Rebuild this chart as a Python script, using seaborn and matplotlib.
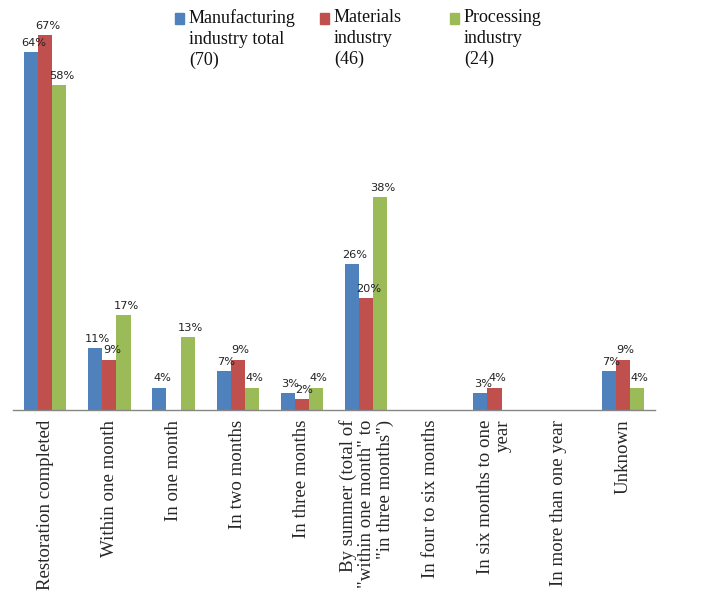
import numpy as np
import pandas as pd
import matplotlib
matplotlib.use("Agg")
import matplotlib.pyplot as plt
from matplotlib.patches import Rectangle
import seaborn as sns

categories = [
    "Restoration completed",
    "Within one month",
    "In one month",
    "In two months",
    "In three months",
    "By summer (total of\n\"within one month\" to\n\"in three months\")",
    "In four to six months",
    "In six months to one\nyear",
    "In more than one year",
    "Unknown",
]
series_names = [
    "Manufacturing\nindustry total\n(70)",
    "Materials\nindustry\n(46)",
    "Processing\nindustry\n(24)",
]
manufacturing_total = [64, 11, 4, 7, 3, 26, 0, 3, 0, 7]
materials = [67, 9, 0, 9, 2, 20, 0, 4, 0, 9]
processing = [58, 17, 13, 4, 4, 38, 0, 0, 0, 4]
colors = ["#4F81BD", "#C0504D", "#9BBB59"]

rows = []
for name, vals in zip(series_names, [manufacturing_total, materials, processing]):
    for cat, v in zip(categories, vals):
        rows.append({"category": cat, "series": name, "value": v})
df = pd.DataFrame(rows)

sns.set_style("white")
plt.rcParams["font.family"] = ["DejaVu Sans"]

fig = plt.figure(figsize=(7.28, 5.92), dpi=100)
ax = fig.add_axes([0.0179, 0.3074, 0.8818, 0.662])

sns.barplot(data=df, x="category", y="value", hue="series", order=categories,
            hue_order=series_names, palette=colors, width=0.66, gap=0,
            saturation=1, legend=False, ax=ax, linewidth=0)

ax.set_ylim(0, 70)
ax.set_xlim(-0.5, len(categories) - 0.5)

# value labels above each non-zero bar
for container in ax.containers:
    for bar in container:
        h = bar.get_height()
        if h > 0:
            ax.annotate(f"{h:.0f}%", (bar.get_x() + bar.get_width() / 2 + 0.04, h),
                        xytext=(0, 3), textcoords="offset points",
                        ha="center", va="bottom", fontsize=8.2, color="#222222")

# category axis: ticks between categories, labels at the centres
ax.set_xticks(np.arange(-0.5, len(categories), 1))
ax.set_xticklabels([])
ax.set_xticks(np.arange(len(categories)), minor=True)
ax.set_xticklabels(categories, minor=True, rotation=90, ha="center", va="top",
                   multialignment="right", fontsize=13.6, family="Liberation Serif",
                   linespacing=1.1)
ax.tick_params(axis="x", which="major", length=5, width=1, color="#868686", direction="out")
ax.tick_params(axis="x", which="minor", length=0, pad=7)
ax.set_yticks([])
ax.set_xlabel("")
ax.set_ylabel("")
for side in ["left", "top", "right"]:
    ax.spines[side].set_visible(False)
ax.spines["bottom"].set_color("#868686")
ax.spines["bottom"].set_linewidth(1)

# legend across the top
W, H = 728, 592
legend_x = [175, 320, 450]
for x, name, c in zip(legend_x, series_names, colors):
    fig.patches.append(Rectangle((x / W, 1 - 24 / H), 9 / W, 11 / H,
                                 transform=fig.transFigure, color=c))
    fig.text((x + 14) / W, 1 - 9 / H, name, ha="left", va="top", fontsize=13,
             family="Liberation Serif", linespacing=1.28, color="#111111")

fig.savefig("out.png", dpi=100)
